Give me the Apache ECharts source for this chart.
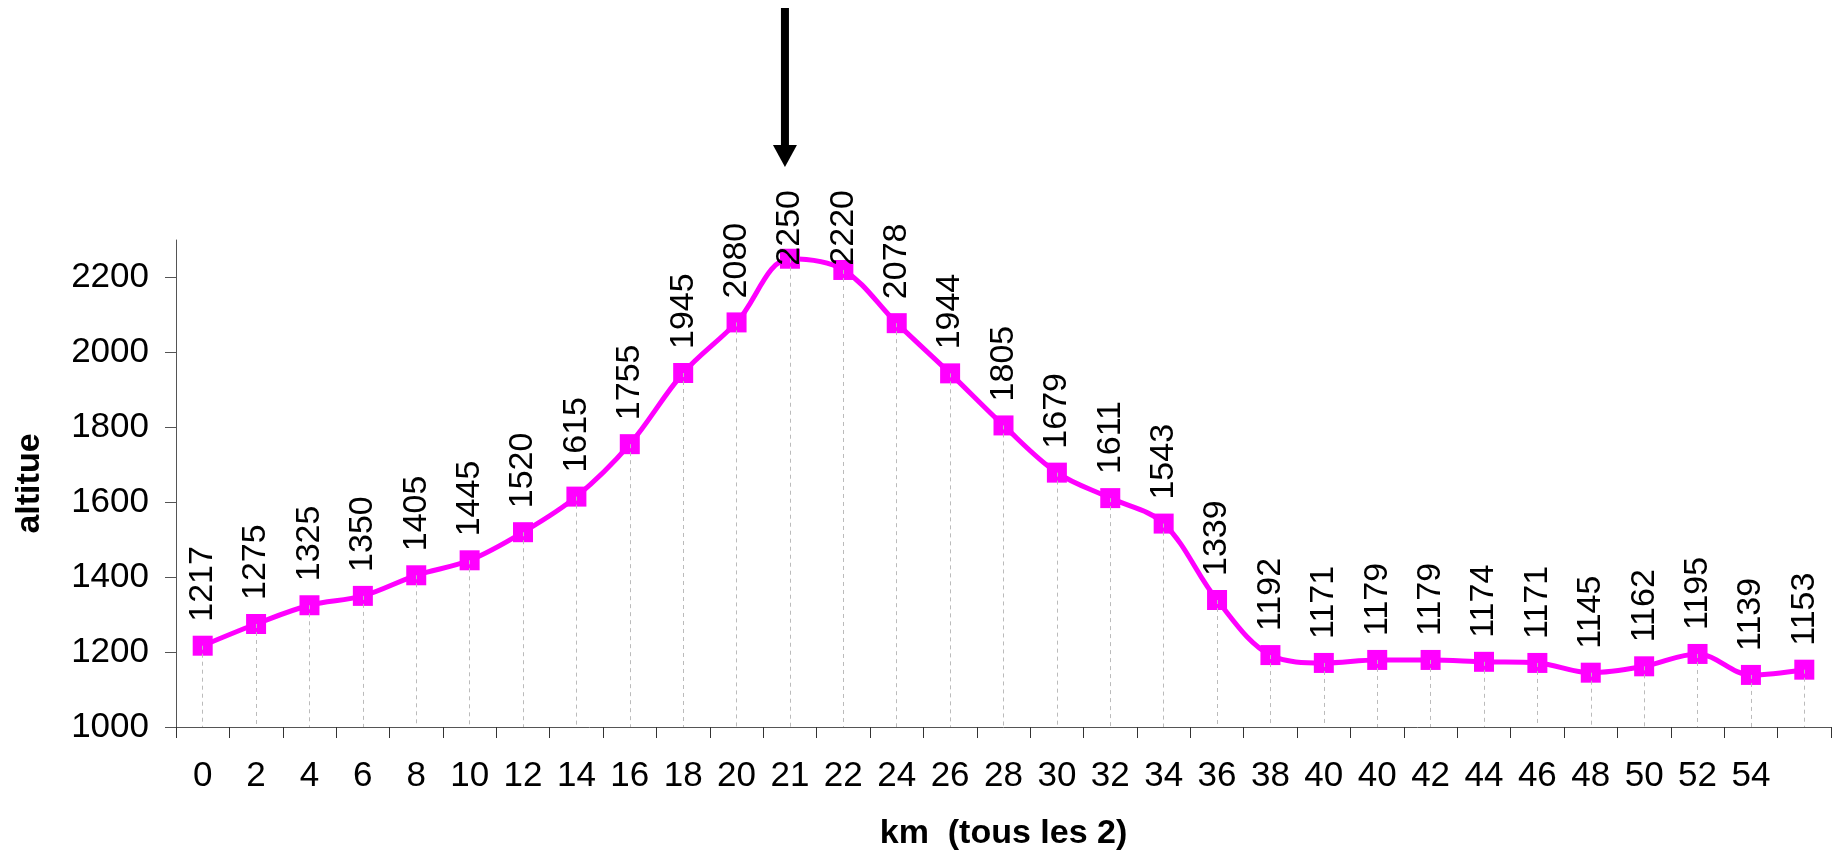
<!DOCTYPE html>
<html>
<head>
<meta charset="utf-8">
<script src="https://cdn.jsdelivr.net/npm/echarts@6/dist/echarts.min.js"></script>
<style>
html,body{margin:0;padding:0;background:#fff;}
#chart{width:1839px;height:863px;}
</style>
</head>
<body>
<div id="chart"></div>
<script>
const kmLabels = ['0','2','4','6','8','10','12','14','16','18','20','21','22','24','26','28','30','32','34','36','38','40','40','42','44','46','48','50','52','54',''];
const altitudes = [1217,1275,1325,1350,1405,1445,1520,1615,1755,1945,2080,2250,2220,2078,1944,1805,1679,1611,1543,1339,1192,1171,1179,1179,1174,1171,1145,1162,1195,1139,1153];
const yTicks = [1000,1200,1400,1600,1800,2000,2200];
const yMin = 1000, yMax = 2300;
const peakIndex = 11;

const FONT = '"Liberation Sans", Arial, sans-serif';
const chart = echarts.init(document.getElementById('chart'));

const option = {
  animation: false,
  backgroundColor: '#fff',
  grid: { left: 176, right: 8, top: 240, bottom: 136, containLabel: false, outerBoundsMode: 'none' },
  xAxis: {
    type: 'category',
    data: kmLabels,
    boundaryGap: true,
    name: 'km  (tous les 2)',
    nameLocation: 'middle',
    nameGap: 90,
    nameTextStyle: { fontFamily: FONT, fontSize: 34, fontWeight: 'bold', color: '#000' },
    axisLine: { lineStyle: { color: '#555', width: 1 } },
    axisTick: { show: true, length: 11, alignWithLabel: false, interval: 0, lineStyle: { color: '#333' } },
    axisLabel: { interval: 0, margin: 32, fontFamily: FONT, fontSize: 35, color: '#000' },
    splitLine: { show: false }
  },
  yAxis: {
    type: 'value',
    min: yMin,
    max: yMax,
    interval: 200,
    name: 'altitue',
    nameLocation: 'middle',
    nameGap: 129,
    nameTextStyle: { fontFamily: FONT, fontSize: 34, fontWeight: 'bold', color: '#000' },
    axisLine: { show: true, lineStyle: { color: '#555', width: 1 } },
    axisTick: { show: true, length: 11, customValues: yTicks, lineStyle: { color: '#555' } },
    axisLabel: { margin: 27, customValues: yTicks, formatter: v => String(v), fontFamily: FONT, fontSize: 35, color: '#000' },
    splitLine: { show: false }
  },
  series: [{
    type: 'line',
    data: altitudes,
    smooth: 0.35,
    symbol: 'rect',
    symbolSize: 20,
    itemStyle: { color: '#FF00FF' },
    lineStyle: { color: '#FF00FF', width: 5 },
    label: {
      show: true,
      position: 'top',
      distance: 14,
      rotate: 90,
      align: 'left',
      verticalAlign: 'middle',
      fontFamily: FONT,
      fontSize: 34,
      color: '#000'
    },
    labelLayout: function (params) {
      const r = params.labelRect;
      if (r && r.y < 190) {
        return { y: 190 + r.height };
      }
      return {};
    },
    markLine: {
      silent: true,
      symbol: 'none',
      label: { show: false },
      lineStyle: { type: [4, 4], color: '#bbb', width: 1 },
      data: altitudes.map((v, i) => [{ coord: [i, v] }, { coord: [i, yMin] }])
    },
    z: 3
  }]
};
chart.setOption(option);

const peak = chart.convertToPixel({ gridIndex: 0 }, [peakIndex, altitudes[peakIndex]]);
const ax = peak[0] - 5;
chart.setOption({
  graphic: [
    { type: 'rect', shape: { x: ax - 4, y: 8, width: 8, height: 140 }, style: { fill: '#000' } },
    { type: 'polygon', shape: { points: [[ax - 12, 145], [ax + 12, 145], [ax, 167]] }, style: { fill: '#000' } }
  ]
});
</script>
</body>
</html>
